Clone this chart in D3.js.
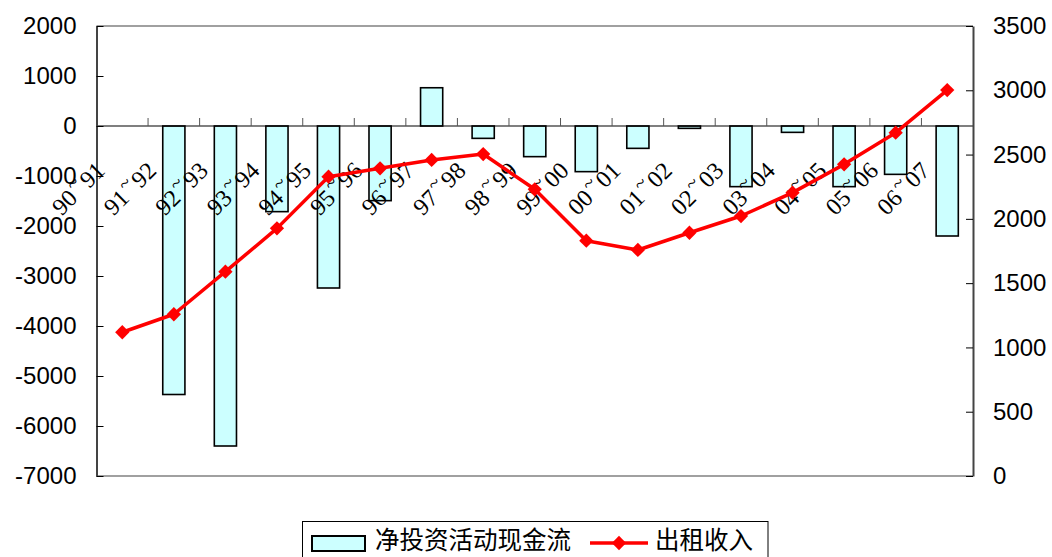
<!DOCTYPE html>
<html>
<head>
<meta charset="utf-8">
<script src="https://cdn.jsdelivr.net/npm/d3@7"></script>
<style>
html,body{margin:0;padding:0;background:#fff;}
svg{display:block;}
</style>
</head>
<body>
<svg id="chart" width="1052" height="557"></svg>
<script>
const categories = ["90~91","91~92","92~93","93~94","94~95","95~96","96~97","97~98","98~99","99~00","00~01","01~02","02~03","03~04","04~05","05~06","06~07"];
const cashFlow = [null, -5370, -6400, -1713, -3240, -1493, 765, -247, -613, -913, -447, -47, -1213, -127, -1213, -967, -2200];
const rentIncome = [1118, 1258, 1589, 1926, 2328, 2393, 2458, 2504, 2230, 1830, 1758, 1892, 2022, 2204, 2424, 2670, 3002];
const leftTicks = [2000, 1000, 0, -1000, -2000, -3000, -4000, -5000, -6000, -7000];
const rightTicks = [3500, 3000, 2500, 2000, 1500, 1000, 500, 0];
const seriesNames = ["净投资活动现金流", "出租收入"];

const svg = d3.select("#chart");
const L = 96.5, R = 973, T = 26, B = 476;

const x = d3.scaleBand().domain(categories).range([L, R]).paddingInner(0).paddingOuter(0);
const yL = d3.scaleLinear().domain([-7000, 2000]).range([B, T]);
const yR = d3.scaleLinear().domain([0, 3500]).range([B, T]);

// plot frame top & bottom (gray)
svg.append("line").attr("x1", L).attr("x2", R).attr("y1", T).attr("y2", T).attr("stroke", "#808080").attr("stroke-width", 1.5);
svg.append("line").attr("x1", L).attr("x2", R).attr("y1", B).attr("y2", B).attr("stroke", "#808080").attr("stroke-width", 1.5);

// bars
const bw = x.bandwidth() * 0.43;
svg.append("g").selectAll("rect").data(categories.map((c, i) => ({c, v: cashFlow[i]})).filter(d => d.v !== null))
  .join("rect")
  .attr("x", d => x(d.c) + x.bandwidth() / 2 - bw / 2)
  .attr("width", bw)
  .attr("y", d => Math.min(yL(d.v), yL(0)))
  .attr("height", d => Math.abs(yL(d.v) - yL(0)))
  .attr("fill", "#ccffff")
  .attr("stroke", "#000")
  .attr("stroke-width", 1.6);

// zero category axis
svg.append("line").attr("x1", L).attr("x2", R).attr("y1", yL(0)).attr("y2", yL(0)).attr("stroke", "#000").attr("stroke-width", 1.2);
svg.append("g").selectAll("line").data(categories.slice(1))
  .join("line")
  .attr("x1", d => x(d)).attr("x2", d => x(d))
  .attr("y1", yL(0)).attr("y2", yL(0) - 8)
  .attr("stroke", "#555").attr("stroke-width", 1);

// left axis
const gL = svg.append("g").attr("transform", `translate(${L},0)`)
  .call(d3.axisLeft(yL).tickValues(leftTicks).tickSizeInner(-7).tickSizeOuter(0).tickPadding(20).tickFormat(d => String(d)));
gL.select(".domain").attr("stroke", "#444").attr("stroke-width", 2);
gL.selectAll(".tick line").attr("stroke", "#000");
gL.selectAll(".tick text").attr("font-family", "Liberation Sans, Arial, sans-serif").attr("font-size", 24).attr("fill", "#000");

// right axis
const gR = svg.append("g").attr("transform", `translate(${R},0)`)
  .call(d3.axisRight(yR).tickValues(rightTicks).tickSizeInner(-7).tickSizeOuter(0).tickPadding(20).tickFormat(d => String(d)));
gR.select(".domain").attr("stroke", "#444").attr("stroke-width", 2);
gR.selectAll(".tick line").attr("stroke", "#000");
gR.selectAll(".tick text").attr("font-family", "Liberation Sans, Arial, sans-serif").attr("font-size", 24).attr("fill", "#000");

// category labels (tilde drawn small and raised, as in the reference)
const labels = svg.append("g").selectAll("text").data(categories)
  .join("text")
  .attr("transform", d => `translate(${x(d) + x.bandwidth() / 2 - 16},${yL(0) + 46}) rotate(-45)`)
  .attr("text-anchor", "end")
  .attr("font-family", "Liberation Serif, Times New Roman, serif")
  .attr("font-size", 24)
  .attr("fill", "#000");
labels.each(function(d) {
  const parts = d.split("~");
  const t = d3.select(this);
  t.append("tspan").text(parts[0]);
  t.append("tspan").attr("font-size", 20).attr("baseline-shift", "45%").attr("dx", 2).text("~");
  t.append("tspan").attr("dx", 2).text(parts[1]);
});

// line
const cx = i => x(categories[i]) + x.bandwidth() / 2;
const line = d3.line().x((d, i) => cx(i)).y(d => yR(d));
svg.append("path").datum(rentIncome).attr("d", line)
  .attr("fill", "none").attr("stroke", "#ff0000").attr("stroke-width", 3.5).attr("stroke-linejoin", "round");
const diamond = d3.symbol().type(d3.symbolDiamond2).size(130);
svg.append("g").selectAll("path").data(rentIncome)
  .join("path")
  .attr("transform", (d, i) => `translate(${cx(i)},${yR(d)})`)
  .attr("d", diamond)
  .attr("fill", "#ff0000");

// legend
const lg = svg.append("g");
lg.append("rect").attr("x", 302.5).attr("y", 521.5).attr("width", 465.5).attr("height", 50)
  .attr("fill", "#fff").attr("stroke", "#000").attr("stroke-width", 1);
lg.append("rect").attr("x", 312).attr("y", 536).attr("width", 53).attr("height", 15)
  .attr("fill", "#ccffff").attr("stroke", "#000").attr("stroke-width", 2);
lg.append("text").attr("x", 375).attr("y", 549).attr("font-family", "Noto Sans CJK SC, sans-serif").attr("font-size", 24.5).attr("fill", "#000").text(seriesNames[0]);
lg.append("line").attr("x1", 590).attr("x2", 648).attr("y1", 543).attr("y2", 543).attr("stroke", "#ff0000").attr("stroke-width", 3.5);
lg.append("path").attr("transform", "translate(619,543)").attr("d", diamond).attr("fill", "#ff0000");
lg.append("text").attr("x", 655).attr("y", 549).attr("font-family", "Noto Sans CJK SC, sans-serif").attr("font-size", 24.5).attr("fill", "#000").text(seriesNames[1]);
</script>
</body>
</html>
